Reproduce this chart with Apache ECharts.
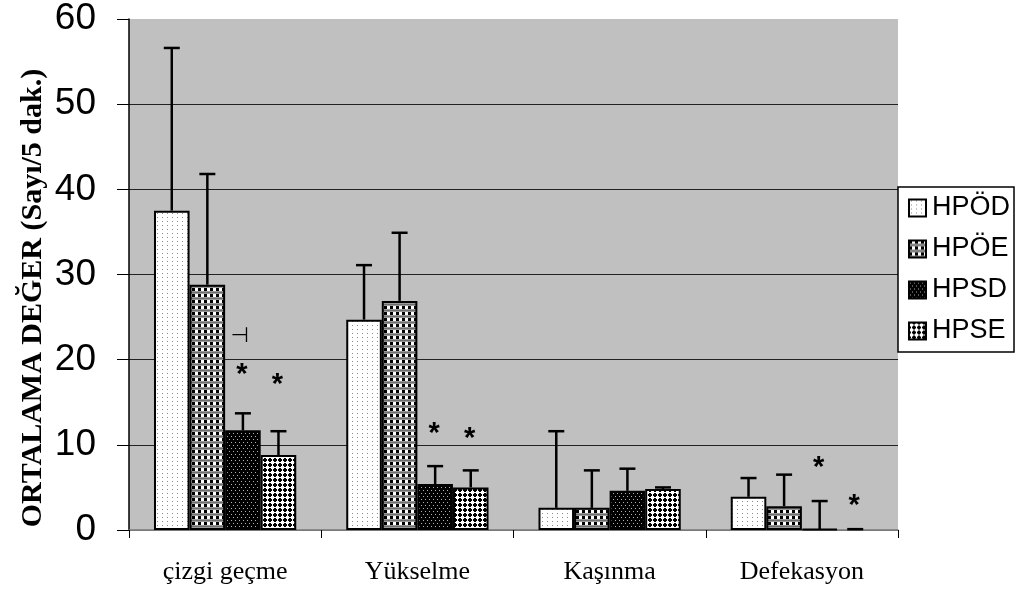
<!DOCTYPE html>
<html>
<head>
<meta charset="utf-8">
<script src="https://cdn.jsdelivr.net/npm/echarts@6/dist/echarts.min.js"></script>
<style>
  html, body { margin: 0; padding: 0; background: #fff; }
  #chart { width: 1017px; height: 592px; }
</style>
</head>
<body>
<div id="chart"></div>
<script>
// Behaviour tests: mean counts per 5 minutes, with upper error bars
const categories = ['çizgi geçme', 'Yükselme', 'Kaşınma', 'Defekasyon'];
const groupNames = ['HPÖD', 'HPÖE', 'HPSD', 'HPSE'];

const hpodMean  = [37.5, 24.7, 2.6, 3.9];
const hpodUpper = [56.6, 31.1, 11.6, 6.1];
const hpoeMean  = [28.8, 26.9, 2.6, 2.8];
const hpoeUpper = [41.8, 34.9, 7.0, 6.5];
const hpsdMean  = [11.7, 5.4, 4.6, 0.1];
const hpsdUpper = [13.7, 7.5, 7.2, 3.4];
const hpseMean  = [8.8, 5.0, 4.8, 0];
const hpseUpper = [11.6, 7.0, 5.0, 0.1];

// Significance marks: category index, group index, level, text
const markCategory = [0, 0, 0, 1, 1, 3, 3];
const markGroup    = [2, 2, 3, 2, 3, 2, 3];
const markLevel    = [22.7, 19.0, 17.8, 12.1, 11.5, 8.1, 3.6];
const markText     = ['⊣', '*', '*', '*', '*', '*', '*'];

const yTicks = { min: 0, max: 60, interval: 10 };

const means = [hpodMean, hpoeMean, hpsdMean, hpseMean];
const uppers = [hpodUpper, hpoeUpper, hpsdUpper, hpseUpper];

// Monochrome fill patterns
function tile(w, h, draw) {
  const c = document.createElement('canvas');
  c.width = w; c.height = h;
  const g = c.getContext('2d');
  draw(g);
  return { image: c, repeat: 'repeat' };
}
function px(g, col, pts) {
  g.fillStyle = col;
  pts.forEach(p => g.fillRect(p[0], p[1], p[2] || 1, p[3] || 1));
}
const patterns = [
  // white with sparse gray dots
  tile(5, 4, g => { px(g, '#fff', [[0, 0, 5, 4]]); px(g, '#8a8a8a', [[2, 1]]); }),
  // black/white checks with gray bands
  tile(6, 6, g => {
    px(g, '#9a9a9a', [[0, 0, 6, 6]]);
    px(g, '#000', [[0, 0, 3, 3]]);
    px(g, '#fff', [[3, 0, 3, 3]]);
    px(g, '#6e6e6e', [[0, 4, 6, 1]]);
  }),
  // black with sparse gray dots
  tile(4, 6, g => { px(g, '#000', [[0, 0, 4, 6]]); px(g, '#b0b0b0', [[1, 1], [3, 4]]); }),
  // black lattice with white beads
  tile(5, 5, g => {
    px(g, '#000', [[0, 0, 5, 5]]);
    px(g, '#fff', [[1, 1, 3, 3], [2, 0], [2, 4], [0, 2], [4, 2]]);
  })
];

const chart = echarts.init(document.getElementById('chart'), null, { renderer: 'canvas' });

const CAT_GAP = 0.26;

const barSeries = groupNames.map((name, s) => ({
  name: name,
  type: 'bar',
  barGap: 0,
  barCategoryGap: (CAT_GAP * 100) + '%',
  itemStyle: { color: patterns[s], borderColor: '#000', borderWidth: 2 },
  emphasis: { disabled: true },
  data: means[s].map(v => v === 0
    ? { value: v, itemStyle: { borderWidth: 0 } }
    : v),
  z: 2
}));

// Error bar items: [category, group, mean, upper]
const errData = [];
means.forEach((arr, s) => arr.forEach((v, c) => errData.push([c, s, v, uppers[s][c]])));

function barCenterX(api, c, s) {
  const band = api.size([1, 0])[0];
  const bw = band * (1 - CAT_GAP) / groupNames.length;
  return api.coord([c, 0])[0] + (s - (groupNames.length - 1) / 2) * bw;
}

const errSeries = {
  type: 'custom',
  silent: true,
  z: 5,
  encode: { x: 0, y: 3 },
  data: errData,
  renderItem: function (params, api) {
    const c = api.value(0), s = api.value(1);
    const x = barCenterX(api, c, s);
    const y0 = api.coord([c, api.value(2)])[1];
    const y1 = api.coord([c, api.value(3)])[1];
    const cap = 8;
    const st = { stroke: '#000', lineWidth: 2.5 };
    return {
      type: 'group',
      children: [
        { type: 'line', shape: { x1: x, y1: y0, x2: x, y2: y1 }, style: st },
        { type: 'line', shape: { x1: x - cap, y1: y1, x2: x + cap, y2: y1 }, style: st }
      ]
    };
  }
};

const markData = markCategory.map((c, i) => [c, markGroup[i], markLevel[i], markText[i]]);
const markSeries = {
  type: 'custom',
  silent: true,
  z: 6,
  encode: { x: 0, y: 2 },
  data: markData,
  renderItem: function (params, api) {
    const c = api.value(0), s = api.value(1);
    const x = barCenterX(api, c, s);
    const y = api.coord([c, api.value(2)])[1];
    const t = markData[params.dataIndex][3];
    const star = t === '*';
    return {
      type: 'text',
      x: x - (star ? 1 : 3),
      y: star ? y + 7 : y,
      style: {
        text: t,
        fill: '#000',
        font: star ? 'bold 29px "Liberation Sans", Arial, sans-serif' : '21px "DejaVu Sans", sans-serif',
        align: 'center',
        verticalAlign: 'middle'
      }
    };
  }
};

chart.setOption({
  animation: false,
  backgroundColor: '#fff',
  grid: {
    left: 129, right: 119, top: 19, bottom: 62,
    show: true, backgroundColor: '#c0c0c0', borderWidth: 0
  },
  legend: {
    orient: 'vertical',
    left: 898, top: 187,
    padding: [6, 4, 6, 10],
    itemWidth: 17, itemHeight: 17, itemGap: 11,
    icon: 'rect',
    backgroundColor: '#fff',
    borderColor: '#000', borderWidth: 1.5,
    selectedMode: false,
    data: groupNames,
    itemStyle: { borderColor: '#000', borderWidth: 2 },
    textStyle: {
      fontFamily: '"Liberation Sans", Arial, sans-serif',
      fontSize: 27, color: '#000', lineHeight: 30, padding: [0, 0, 0, 1]
    }
  },
  xAxis: {
    type: 'category',
    data: categories,
    axisLine: { lineStyle: { color: '#7a7a7a', width: 1.5 } },
    axisTick: { show: true, length: 8, lineStyle: { color: '#000' } },
    axisLabel: {
      margin: 29,
      color: '#000',
      fontFamily: '"Liberation Serif", "Times New Roman", serif',
      fontSize: 26
    }
  },
  yAxis: {
    type: 'value',
    min: yTicks.min, max: yTicks.max, interval: yTicks.interval,
    axisLine: { show: true, lineStyle: { color: '#000', width: 1.5 } },
    axisTick: { show: true, length: 12, lineStyle: { color: '#000' } },
    axisLabel: {
      margin: 33,
      color: '#000',
      fontFamily: '"Liberation Sans", Arial, sans-serif',
      fontSize: 37,
      padding: [4, 0, 0, 0]
    },
    splitLine: {
      show: true,
      lineStyle: { color: ['#7a7a7a', '#222', '#222', '#222', '#222', '#222', 'rgba(0,0,0,0)'], width: 1.2 }
    }
  },
  graphic: [{
    type: 'text',
    x: 33, y: 298,
    rotation: Math.PI / 2,
    style: {
      text: 'ORTALAMA DEĞER (Sayı/5 dak.)',
      fill: '#000',
      font: 'bold 30px "Liberation Serif", "Times New Roman", serif',
      align: 'center',
      verticalAlign: 'middle'
    }
  }],
  series: barSeries.concat([errSeries, markSeries])
});
</script>
</body>
</html>
